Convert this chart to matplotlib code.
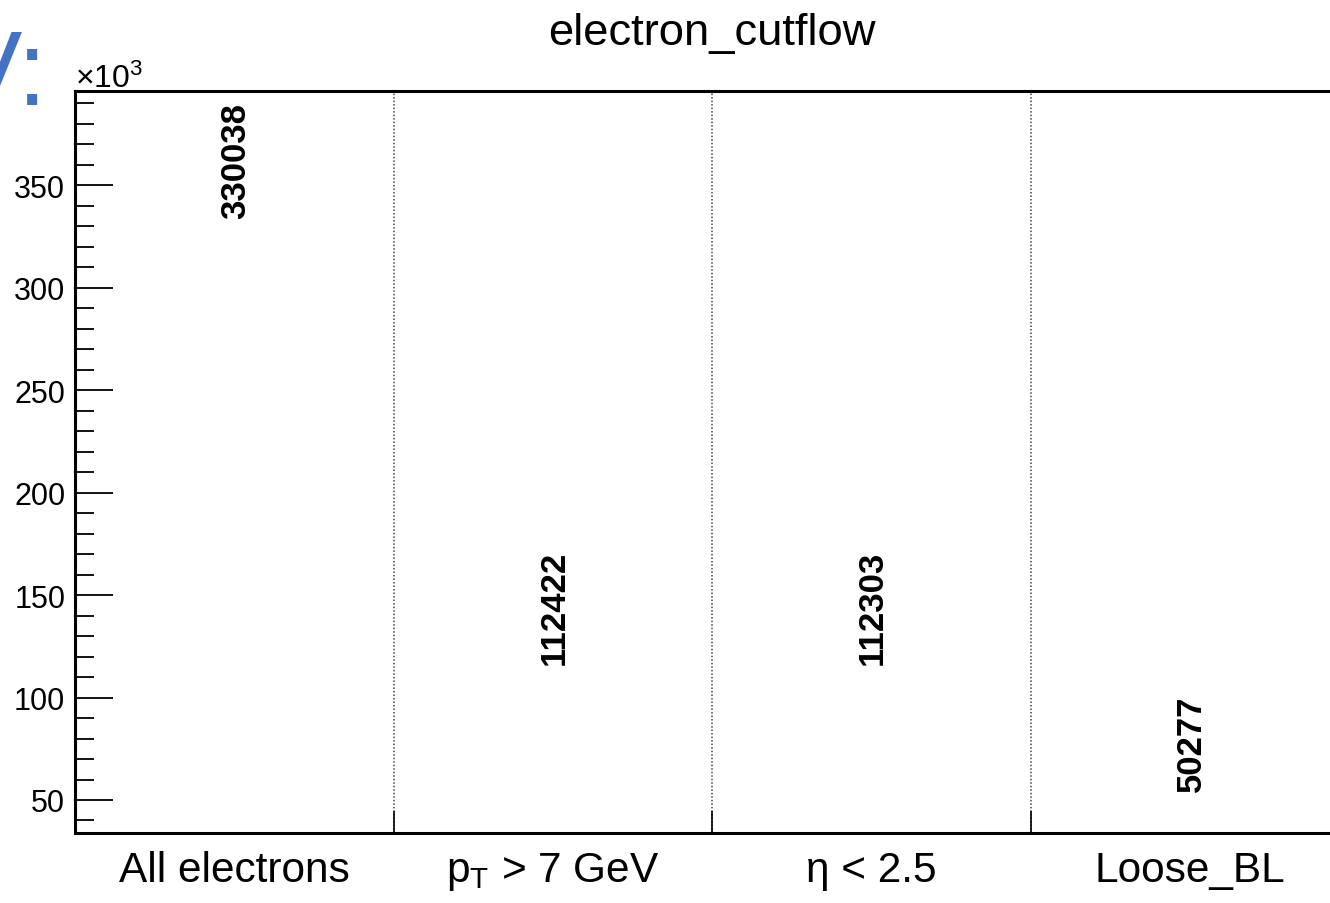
#!/usr/bin/env python3
import matplotlib
matplotlib.use("Agg")
import matplotlib.pyplot as plt
import numpy as np
from matplotlib.ticker import FuncFormatter, MultipleLocator

# cutflow bins and counts
cuts = ["All electrons", r"$\mathregular{p_{T}}$ > 7 GeV", "\u03b7 < 2.5", "Loose_BL"]
counts = [330038, 112422, 112303, 50277]
title = "electron_cutflow"

plt.rcParams['font.family'] = ['Liberation Sans', 'DejaVu Sans']
plt.rcParams['mathtext.fontset'] = 'custom'
plt.rcParams['mathtext.rm'] = 'Liberation Sans'
plt.rcParams['mathtext.it'] = 'Liberation Sans:italic'
plt.rcParams['mathtext.bf'] = 'Liberation Sans:bold'


def drawGraph():
	fig = plt.figure(figsize=(13.3, 9.04), dpi=100)
	ax = fig.add_axes([75 / 1330, 70 / 904, 1274 / 1330, 742 / 904])

	n = len(cuts)
	edges = np.arange(n + 1)
	centers = edges[:-1] + 0.5
	ax.set_xlim(0, n)
	ax.set_ylim(33900, 395900)

	# ROOT "TEXT" draw option: only the bin contents as rotated labels
	for x, c in zip(centers, counts):
		ax.annotate(str(c), xy=(x, c), xytext=(1, 6), textcoords='offset points',
					rotation=90, ha='center', va='bottom', fontsize=25,
					fontweight='bold')

	# bin boundaries as dotted grid
	ax.set_xticks(edges)
	ax.set_xticklabels([])
	ax.set_xticks(centers, minor=True)
	ax.set_xticklabels(cuts, minor=True, fontsize=30.5)
	ax.tick_params(axis='x', which='major', direction='in', length=16, width=1.2, top=False)
	ax.tick_params(axis='x', which='minor', length=0, pad=12)
	for e in edges[1:-1]:
		ax.axvline(e, color='#444444', linestyle=(0, (1, 1.3)), linewidth=1.1, zorder=0)

	ax.yaxis.set_major_locator(MultipleLocator(50000))
	ax.yaxis.set_minor_locator(MultipleLocator(10000))
	ax.yaxis.set_major_formatter(FuncFormatter(lambda v, p: "%d" % round(v / 1000)))
	ax.tick_params(axis='y', which='major', direction='in', length=27, width=1.3,
				   labelsize=22, pad=7, right=False)
	ax.tick_params(axis='y', which='minor', direction='in', length=13.5, width=1.3, right=False)
	ax.annotate(r"$\times10^{3}$", xy=(0, 1.0), xycoords='axes fraction',
				xytext=(0, 3), textcoords='offset points', ha='left', va='baseline',
				fontsize=23)

	for s in ax.spines.values():
		s.set_linewidth(2.2)

	ax.annotate(title, xy=(0.5, 1.0), xycoords='axes fraction', xytext=(0, 34),
				textcoords='offset points', ha='center', va='baseline', fontsize=32.7)

	# bit of slide text cut off at the left edge
	fig.text(47 / 1330, 1 - 105 / 904, "V:", color='#4472C4', fontsize=76,
			 ha='right', va='baseline')

	fig.savefig("out.png", dpi=100)


def main():
	drawGraph()


if __name__ == '__main__':
	main()
